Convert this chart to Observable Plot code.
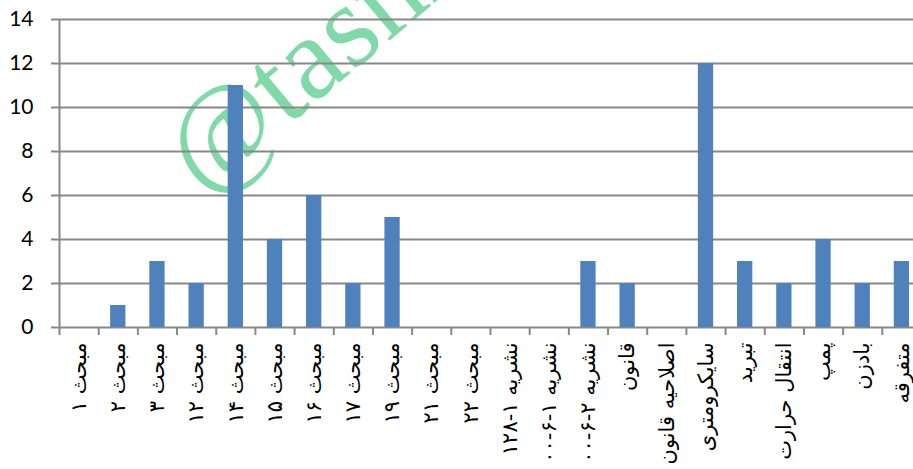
<!DOCTYPE html>
<html><head><meta charset="utf-8">
<script src="https://cdn.jsdelivr.net/npm/d3@7"></script>
<script src="https://cdn.jsdelivr.net/npm/@observablehq/plot@0.6"></script>
<style>body{margin:0;background:#fff}</style>
</head><body><div id="chart"></div>
<script>
const categories = ["مبحث ۱","مبحث ۲","مبحث ۳","مبحث ۱۲","مبحث ۱۴","مبحث ۱۵","مبحث ۱۶","مبحث ۱۷","مبحث ۱۹","مبحث ۲۱","مبحث ۲۲","نشریه ۱-۱۲۸","نشریه ۱-۶-۰۰","نشریه ۲-۶-۰۰","قانون","اصلاحیه قانون","سایکرومتری","تبرید","انتقال حرارت","پمپ","بادزن","متفرقه"];
const values = [0,1,3,2,11,4,6,2,5,0,0,0,0,3,2,0,12,3,2,4,2,3];
const yTicks = [0,2,4,6,8,10,12,14];
const watermark = ["@tasnim"];

const data = categories.map((c, i) => ({c, i, v: values[i]}));
const n = categories.length;

const chart = Plot.plot({
  width: 913, height: 469,
  marginLeft: 59, marginRight: -8, marginTop: 19, marginBottom: 142,
  style: {background: "white", fontFamily: "Lato", overflow: "hidden"},
  x: {domain: [0, n], axis: null},
  y: {domain: [0, 14], axis: null},
  marks: [
    Plot.text(watermark, {frameAnchor: "top-left", dx: 144, dy: 177, rotate: -40, fontSize: 118, fontFamily: "Liberation Serif", fill: "#82d9a8", textAnchor: "start", lineAnchor: "bottom"}),
    Plot.ruleY(yTicks, {stroke: "#888", strokeWidth: 2}),
    Plot.ruleX([0], {y1: 0, y2: 14, stroke: "#888", strokeWidth: 2}),
    Plot.rectY(data, {x1: d => d.i + 0.305, x2: d => d.i + 0.695, y: "v", fill: "#4f81bd"}),
    Plot.axisX({ticks: d3.range(n + 1), tickSize: 8, tickFormat: () => "", label: null, stroke: "#888", strokeWidth: 2}),
    Plot.axisX({ticks: d3.range(n).map(i => i + 0.5), tickSize: 0, tickRotate: -90, tickPadding: 15, label: null, tickFormat: t => categories[Math.floor(t)], fontSize: 21, fontFamily: "DejaVu Sans", fill: "black"}),
    Plot.axisY({ticks: yTicks, tickSize: 8, tickPadding: 18, label: null, fontSize: 21, fontFamily: "Lato", stroke: "#888", strokeWidth: 2, fill: "black"})
  ]
});
document.getElementById("chart").appendChild(chart);
</script></body></html>
